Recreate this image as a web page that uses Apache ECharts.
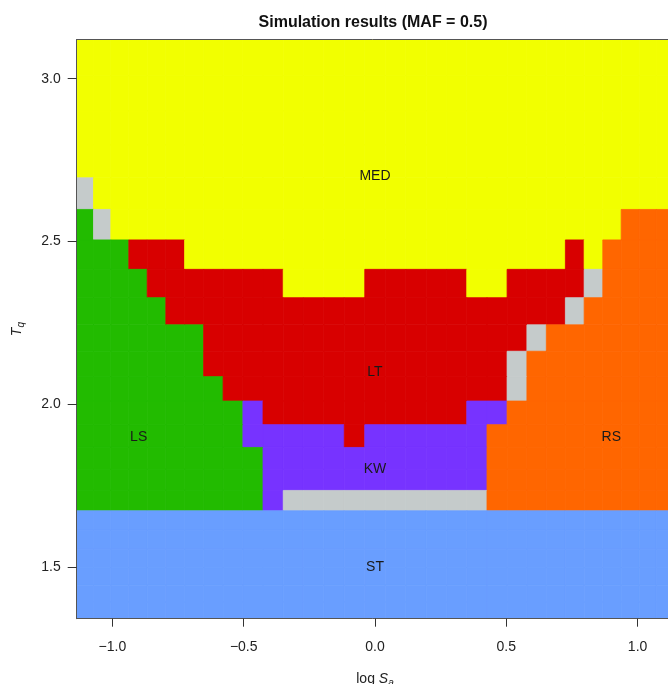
<!DOCTYPE html>
<html><head><meta charset="utf-8">
<script src="https://cdn.jsdelivr.net/npm/echarts@6/dist/echarts.min.js"></script>
<style>html,body{margin:0;padding:0;background:#fff}#c{width:668px;height:684px}</style>
</head><body><div id="c"></div>
<script>
// Column centres (log S_a)
const logSa = [-1.104, -1.040, -0.972, -0.903, -0.832, -0.761, -0.689, -0.616, -0.541, -0.465,
  -0.388, -0.311, -0.234, -0.156, -0.078, 0, 0.078, 0.156, 0.234, 0.311, 0.388, 0.465, 0.541,
  0.616, 0.689, 0.761, 0.832, 0.903, 0.972, 1.040, 1.104];
// Row centres (T_q), bottom to top
const Tq = [1.367, 1.418, 1.471, 1.526, 1.583, 1.642, 1.704, 1.767, 1.833, 1.902, 1.973, 2.047,
  2.123, 2.203, 2.285, 2.370, 2.459, 2.551, 2.646, 2.745, 2.848, 2.954, 3.065];
// Outcome class per cell, run-length coded, rows from TOP to BOTTOM
// M=MED, T=LT, L=LS, K=KW, R=RS, S=ST, N=no result
const gridRows = [
  "M31",
  "M31",
  "M31",
  "M31",
  "N1 M30",
  "L1 N1 M26 R3",
  "L3 T3 M19 T1 M1 R4",
  "L4 T7 M4 T5 M2 T4 N1 R4",
  "L5 T20 N1 R5",
  "L7 T16 N1 R7",
  "L7 T15 N1 R8",
  "L8 T14 N1 R8",
  "L9 K1 T10 K2 R9",
  "L9 K5 T1 K6 R10",
  "L10 K11 R10",
  "L10 K11 R10",
  "L10 K1 N10 R10",
  "S31",
  "S31",
  "S31",
  "S31",
  "S31",
  "S31"
];
const classCodes = ['M', 'T', 'L', 'K', 'R', 'S', 'N'];
const classColors = ['#F2FF00', '#D80000', '#22BB00', '#7733FF', '#FF6600', '#699EFF', '#C5CBCB'];
// Region labels
const regionNames = ['MED', 'LT', 'LS', 'KW', 'RS', 'ST'];
const regionX = [0, 0, -0.9, 0, 0.9, 0];
const regionY = [2.7, 2.1, 1.9, 1.8, 1.9, 1.5];
// Ticks
const xTicks = [-1.0, -0.5, 0.0, 0.5, 1.0];
const yTicks = [1.5, 2.0, 2.5, 3.0];
const titleText = 'Simulation results (MAF = 0.5)';

function edges(c) {
  const e = [c[0] - (c[1] - c[0]) / 2];
  for (let i = 1; i < c.length; i++) e.push((c[i - 1] + c[i]) / 2);
  e.push(c[c.length - 1] + (c[c.length - 1] - c[c.length - 2]) / 2);
  return e;
}
const xE = edges(logSa), yE = edges(Tq);
const cells = [];
gridRows.forEach((row, r) => {
  const yi = Tq.length - 1 - r;
  let col = 0;
  row.split(' ').forEach(tok => {
    const code = tok[0], n = parseInt(tok.slice(1), 10);
    for (let k = 0; k < n; k++, col++) {
      cells.push([xE[col], xE[col + 1], yE[yi], yE[yi + 1], classCodes.indexOf(code)]);
    }
  });
});
const labelData = regionNames.map((n, i) => [regionX[i], regionY[i], n]);

const FONT = 'Liberation Sans, Arial, sans-serif';
const chart = echarts.init(document.getElementById('c'), null, {renderer: 'canvas'});
const fmt = v => v.toFixed(1).replace('-', '\u2212');
const axisLineStyle = {color: '#555', width: 1};
chart.setOption({
  animation: false,
  backgroundColor: '#fff',
  title: {
    text: titleText, left: 373, top: 15, textAlign: 'center', padding: 0,
    textStyle: {fontFamily: FONT, fontSize: 16, fontWeight: 'bold', color: '#111'}
  },
  grid: {left: 76.7, top: 39.5, width: 596.6, height: 579.2, containLabel: false, outerBoundsMode: 'none'},
  xAxis: [{
    type: 'value', min: xE[0], max: xE[xE.length - 1], z: 10,
    axisLine: {show: true, onZero: false, lineStyle: axisLineStyle},
    axisTick: {show: true, length: 8, customValues: xTicks, lineStyle: {color: '#333'}},
    axisLabel: {customValues: xTicks, formatter: fmt, margin: 21, fontFamily: FONT, fontSize: 14, color: '#222'},
    splitLine: {show: false},
    name: '{n|log }{i|S}{s|a}', nameLocation: 'middle', nameGap: 50,
    nameTextStyle: {
      rich: {
        n: {fontFamily: FONT, fontSize: 14, color: '#222', lineHeight: 20, verticalAlign: 'middle'},
        i: {fontFamily: FONT, fontSize: 14, fontStyle: 'italic', color: '#222', lineHeight: 20, verticalAlign: 'middle'},
        s: {fontFamily: FONT, fontSize: 10, fontStyle: 'italic', color: '#222', lineHeight: 20, verticalAlign: 'bottom'}
      }
    }
  }, {
    type: 'value', position: 'top', min: xE[0], max: xE[xE.length - 1], z: 10,
    axisLine: {show: true, onZero: false, lineStyle: axisLineStyle},
    axisTick: {show: false}, axisLabel: {show: false}, splitLine: {show: false}
  }],
  yAxis: [{
    type: 'value', min: yE[0], max: yE[yE.length - 1], z: 10,
    axisLine: {show: true, onZero: false, lineStyle: axisLineStyle},
    axisTick: {show: true, length: 9, customValues: yTicks, lineStyle: {color: '#333'}},
    axisLabel: {customValues: yTicks, formatter: fmt, margin: 16, fontFamily: FONT, fontSize: 14, color: '#222'},
    splitLine: {show: false},
    name: '{i|T}{s|q}', nameLocation: 'middle', nameGap: 50, nameRotate: 90,
    nameTextStyle: {
      rich: {
        i: {fontFamily: FONT, fontSize: 14, fontStyle: 'italic', color: '#222', lineHeight: 20, verticalAlign: 'middle'},
        s: {fontFamily: FONT, fontSize: 10, fontStyle: 'italic', color: '#222', lineHeight: 20, verticalAlign: 'bottom'}
      }
    }
  }, {
    type: 'value', position: 'right', min: yE[0], max: yE[yE.length - 1], z: 10,
    axisLine: {show: true, onZero: false, lineStyle: axisLineStyle},
    axisTick: {show: false}, axisLabel: {show: false}, splitLine: {show: false}
  }],
  series: [{
    type: 'custom', clip: true, z: 2,
    data: cells,
    encode: {x: [0, 1], y: [2, 3]},
    renderItem: function (params, api) {
      const x0 = api.value(0), x1 = api.value(1), y0 = api.value(2), y1 = api.value(3);
      const p0 = api.coord([x0, y1]), p1 = api.coord([x1, y0]);
      const col = classColors[api.value(4)];
      return {
        type: 'rect',
        shape: {x: p0[0], y: p0[1], width: p1[0] - p0[0], height: p1[1] - p0[1]},
        style: {fill: col, stroke: col, lineWidth: 0.8}
      };
    }
  }, {
    type: 'custom', z: 5, silent: true,
    data: labelData,
    encode: {x: 0, y: 1},
    renderItem: function (params, api) {
      const p = api.coord([api.value(0), api.value(1)]);
      return {
        type: 'text',
        style: {
          text: labelData[params.dataIndex][2], x: p[0], y: p[1],
          align: 'center', verticalAlign: 'middle',
          font: '14px ' + FONT, fill: '#1a1a1a'
        }
      };
    }
  }]
});
</script></body></html>
